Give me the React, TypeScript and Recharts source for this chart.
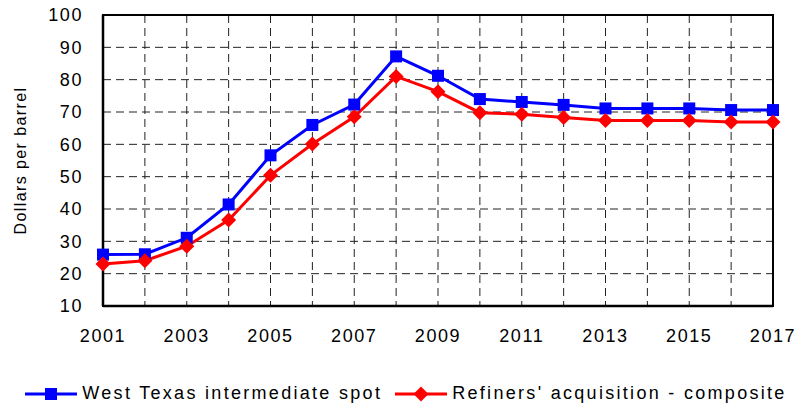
import React from "react";
import {
  LineChart,
  Line,
  XAxis,
  YAxis,
  CartesianGrid,
  ReferenceArea,
} from "recharts";

// years on the x axis
const years = [
  "2001", "2002", "2003", "2004", "2005", "2006", "2007", "2008", "2009",
  "2010", "2011", "2012", "2013", "2014", "2015", "2016", "2017",
];

// dollars per barrel
const wtiSpot = [
  25.9, 26.0, 31.1, 41.4, 56.6, 66.0, 72.3, 87.2, 81.2,
  74.0, 73.1, 72.2, 71.1, 71.1, 71.1, 70.6, 70.6,
];
const refinersComposite = [
  23.0, 24.0, 28.5, 36.6, 50.4, 60.1, 68.5, 81.0, 76.3,
  69.8, 69.3, 68.3, 67.4, 67.4, 67.4, 66.9, 66.9,
];

const yTicks = [10, 20, 30, 40, 50, 60, 70, 80, 90, 100];
const seriesNames = ["West Texas intermediate spot", "Refiners' acquisition - composite"];
const yLabel = "Dollars per barrel";

const data = years.map((y, i) => ({
  year: y,
  wti: wtiSpot[i],
  rac: refinersComposite[i],
}));

const FONT = "'Liberation Sans', Arial, sans-serif";

const SquareDot = (props: any) => {
  const { cx, cy } = props;
  if (cx == null || cy == null) return null;
  return <rect x={cx - 6} y={cy - 6} width={12} height={12} fill="#0000ff" />;
};

const DiamondDot = (props: any) => {
  const { cx, cy } = props;
  if (cx == null || cy == null) return null;
  const r = 7.5;
  return (
    <polygon
      points={`${cx},${cy - r} ${cx + r},${cy} ${cx},${cy + r} ${cx - r},${cy}`}
      fill="#ff0000"
    />
  );
};

function LegendItem({ color, name, square }: { color: string; name: string; square: boolean }) {
  return (
    <div style={{ display: "flex", alignItems: "center" }}>
      <svg width={54} height={20}>
        <line x1={1} y1={10} x2={53} y2={10} stroke={color} strokeWidth={3} />
        {square ? (
          <rect x={21} y={4} width={12} height={12} fill={color} />
        ) : (
          <polygon points="27,2.5 34.5,10 27,17.5 19.5,10" fill={color} />
        )}
      </svg>
      <span style={{ marginLeft: 4, fontSize: 18, letterSpacing: 2.3, color: "#000" }}>{name}</span>
    </div>
  );
}

export default function App() {
  return (
    <div
      style={{
        position: "absolute",
        left: 0,
        top: 0,
        width: 811,
        height: 404,
        background: "#fff",
        fontFamily: FONT,
      }}
    >
      <LineChart
        width={811}
        height={404}
        data={data}
        margin={{ top: 15, right: 38, left: 0, bottom: 68 }}
      >
        <CartesianGrid stroke="#222" strokeDasharray="8 5" strokeWidth={1} />
        <XAxis
          dataKey="year"
          interval={0}
          tickFormatter={(v: string, i: number) => (i % 2 === 0 ? v : "")}
          tickLine={false}
          tickSize={0}
          tickMargin={23}
          height={30}
          axisLine={{ stroke: "#000", strokeWidth: 2.5 }}
          tick={{ fill: "#000", fontSize: 18, letterSpacing: 1.6, fontFamily: FONT }}
        />
        <YAxis
          domain={[10, 100]}
          ticks={yTicks}
          interval={0}
          width={103}
          tickLine={false}
          tickSize={0}
          tickMargin={20}
          axisLine={{ stroke: "#000", strokeWidth: 2.5 }}
          tick={{ fill: "#000", fontSize: 18, letterSpacing: 1.6, fontFamily: FONT }}
          label={{
            content: (p: any) => {
              const vb = p.viewBox || { x: 0, y: 0, width: 0, height: 0 };
              const x = vb.x + 20;
              const y = vb.y + vb.height / 2;
              return (
                <text
                  x={x}
                  y={y}
                  transform={`rotate(-90 ${x} ${y})`}
                  textAnchor="middle"
                  dominantBaseline="central"
                  fontSize={16}
                  letterSpacing={1.4}
                  fontFamily={FONT}
                  fill="#000"
                >
                  {yLabel}
                </text>
              );
            },
          }}
        />
        <ReferenceArea
          x1={years[0]}
          x2={years[years.length - 1]}
          y1={10}
          y2={100}
          fill="none"
          stroke="#000"
          strokeWidth={2}
          ifOverflow="visible"
        />
        <Line
          dataKey="wti"
          stroke="#0000ff"
          strokeWidth={3}
          dot={<SquareDot />}
          activeDot={false}
          isAnimationActive={false}
        />
        <Line
          dataKey="rac"
          stroke="#ff0000"
          strokeWidth={3}
          dot={<DiamondDot />}
          activeDot={false}
          isAnimationActive={false}
        />
      </LineChart>
      <div
        style={{
          position: "absolute",
          left: 0,
          top: 383,
          width: 811,
          display: "flex",
          justifyContent: "center",
          gap: 12,
        }}
      >
        <LegendItem color="#0000ff" name={seriesNames[0]} square />
        <LegendItem color="#ff0000" name={seriesNames[1]} square={false} />
      </div>
    </div>
  );
}
